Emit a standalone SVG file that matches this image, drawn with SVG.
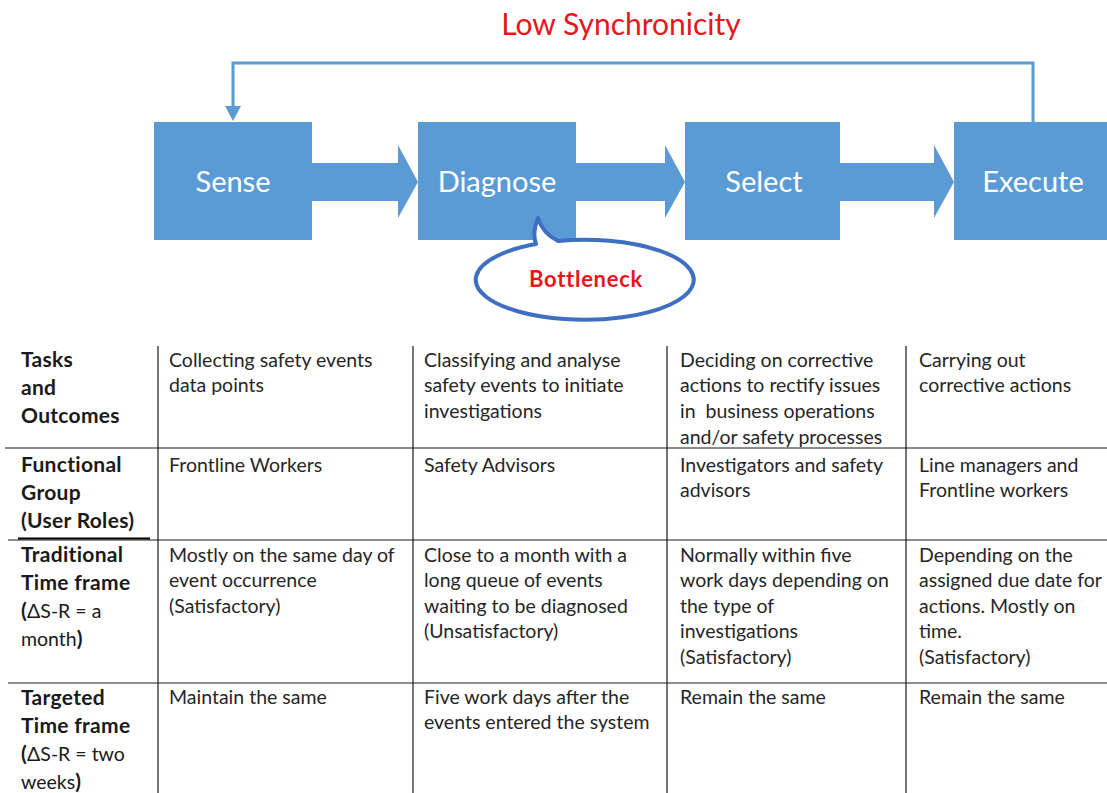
<svg xmlns="http://www.w3.org/2000/svg" width="1107" height="793" viewBox="0 0 1107 793">
  <style>
    .box { fill: #5B9BD5; }
    .boxlabel { font-family: Lato, "Liberation Sans", Arial, sans-serif; font-size: 29px; fill: #ffffff; text-anchor: middle; }
    .title { font-family: Lato, "Liberation Sans", Arial, sans-serif; font-size: 30px; fill: #E8161B; text-anchor: middle; }
    .callout { fill: #ffffff; stroke: #3E6FC0; stroke-width: 4; stroke-linejoin: round; }
    .calloutlabel { font-family: Lato, "Liberation Sans", Arial, sans-serif; font-size: 22px; letter-spacing: 0.7px; font-weight: bold; fill: #E8161B; text-anchor: middle; }
    .grid { stroke: #1a1a1a; stroke-width: 1.2; fill: none; }
    .hdr { font-family: Lato, "Liberation Sans", Arial, sans-serif; font-size: 21px; letter-spacing: 0.3px; font-weight: bold; fill: #1a1a1a; }
    .cell { font-family: Lato, "Liberation Sans", Arial, sans-serif; font-size: 19.5px; fill: #262626; }
    .reg { font-weight: normal; letter-spacing: 0; font-size: 19.5px; }
  </style>

  <rect width="1107" height="793" fill="#ffffff"/>

  <text class="title" x="621" y="35">Low Synchronicity</text>

  <!-- connectors -->
  <g id="connectors">
    <!-- feedback loop from Execute back to Sense -->
    <path d="M1033,122 V63 H233 V107" fill="none" stroke="#5B9BD5" stroke-width="3"/>
    <path d="M225,106 L241,106 L233,121 z" fill="#5B9BD5"/>
    <!-- block arrows between stages -->
    <path class="box" d="M312,163 H398 V145 L418,182 L398,218 V201 H312 z"/>
    <path class="box" d="M576,163 H665 V145 L685,182 L665,218 V201 H576 z"/>
    <path class="box" d="M840,163 H934 V145 L954,182 L934,218 V201 H840 z"/>
  </g>

  <g id="sense">
    <rect class="box" x="154" y="122" width="158" height="118"/>
    <text class="boxlabel" x="233" y="192">Sense</text>
  </g>
  <g id="diagnose">
    <rect class="box" x="418" y="122" width="158" height="118"/>
    <text class="boxlabel" x="497" y="192">Diagnose</text>
  </g>
  <g id="select">
    <rect class="box" x="685" y="122" width="155" height="118"/>
    <text class="boxlabel" x="764" y="192">Select</text>
  </g>
  <g id="execute">
    <rect class="box" x="954" y="122" width="153" height="118"/>
    <text class="boxlabel" x="1033" y="192">Execute</text>
  </g>

  <g id="bottleneck">
    <path class="callout" d="M558,241 C548,236 541,228 538,218 C534,228 533,236 536,244 A109,40 0 1 0 558,241 z"/>
    <text class="calloutlabel" x="586" y="287">Bottleneck</text>
  </g>

  <!-- table grid -->
  <g id="table">
    <line class="grid" x1="158" y1="346" x2="158" y2="793"/>
    <line class="grid" x1="413" y1="346" x2="413" y2="793"/>
    <line class="grid" x1="667" y1="346" x2="667" y2="793"/>
    <line class="grid" x1="906" y1="346" x2="906" y2="793"/>
    <line class="grid" x1="5" y1="448" x2="1107" y2="448"/>
    <line class="grid" x1="8" y1="540" x2="1107" y2="540"/>
    <line x1="18" y1="538.5" x2="150" y2="538.5" stroke="#000" stroke-width="2"/>
    <line class="grid" x1="8" y1="683" x2="1107" y2="683"/>

    <!-- row headers -->
    <text class="hdr" x="21" y="367">Tasks</text>
    <text class="hdr" x="21" y="395">and</text>
    <text class="hdr" x="21" y="423">Outcomes</text>

    <text class="hdr" x="21" y="472">Functional</text>
    <text class="hdr" x="21" y="500">Group</text>
    <text class="hdr" x="21" y="528">(User Roles)</text>

    <text class="hdr" x="21" y="562">Traditional</text>
    <text class="hdr" x="21" y="590">Time frame</text>
    <text class="hdr" x="21" y="618">(<tspan class="reg">ΔS-R = a</tspan></text>
    <text class="hdr" x="21" y="646"><tspan class="reg">month</tspan>)</text>

    <text class="hdr" x="21" y="705">Targeted</text>
    <text class="hdr" x="21" y="733">Time frame</text>
    <text class="hdr" x="21" y="761">(<tspan class="reg">ΔS-R = two</tspan></text>
    <text class="hdr" x="21" y="789"><tspan class="reg">weeks</tspan>)</text>

    <!-- Sense column -->
    <text class="cell" x="169" y="367">Collecting safety events</text>
    <text class="cell" x="169" y="392">data points</text>
    <text class="cell" x="169" y="472">Frontline Workers</text>
    <text class="cell" x="169" y="562">Mostly on the same day of</text>
    <text class="cell" x="169" y="587">event occurrence</text>
    <text class="cell" x="169" y="613">(Satisfactory)</text>
    <text class="cell" x="169" y="704">Maintain the same</text>

    <!-- Diagnose column -->
    <text class="cell" x="424" y="367">Classifying and analyse</text>
    <text class="cell" x="424" y="392">safety events to initiate</text>
    <text class="cell" x="424" y="418">investigations</text>
    <text class="cell" x="424" y="472">Safety Advisors</text>
    <text class="cell" x="424" y="562">Close to a month with a</text>
    <text class="cell" x="424" y="587">long queue of events</text>
    <text class="cell" x="424" y="613">waiting to be diagnosed</text>
    <text class="cell" x="424" y="638">(Unsatisfactory)</text>
    <text class="cell" x="424" y="704">Five work days after the</text>
    <text class="cell" x="424" y="729">events entered the system</text>

    <!-- Select column -->
    <text class="cell" x="680" y="367">Deciding on corrective</text>
    <text class="cell" x="680" y="392">actions to rectify issues</text>
    <text class="cell" x="680" y="418" xml:space="preserve">in  business operations</text>
    <text class="cell" x="680" y="444">and/or safety processes</text>
    <text class="cell" x="680" y="472">Investigators and safety</text>
    <text class="cell" x="680" y="497">advisors</text>
    <text class="cell" x="680" y="562">Normally within five</text>
    <text class="cell" x="680" y="587">work days depending on</text>
    <text class="cell" x="680" y="613">the type of</text>
    <text class="cell" x="680" y="638">investigations</text>
    <text class="cell" x="680" y="664">(Satisfactory)</text>
    <text class="cell" x="680" y="704">Remain the same</text>

    <!-- Execute column -->
    <text class="cell" x="919" y="367">Carrying out</text>
    <text class="cell" x="919" y="392">corrective actions</text>
    <text class="cell" x="919" y="472">Line managers and</text>
    <text class="cell" x="919" y="497">Frontline workers</text>
    <text class="cell" x="919" y="562">Depending on the</text>
    <text class="cell" x="919" y="587">assigned due date for</text>
    <text class="cell" x="919" y="613">actions. Mostly on</text>
    <text class="cell" x="919" y="638">time.</text>
    <text class="cell" x="919" y="664">(Satisfactory)</text>
    <text class="cell" x="919" y="704">Remain the same</text>
  </g>
</svg>
